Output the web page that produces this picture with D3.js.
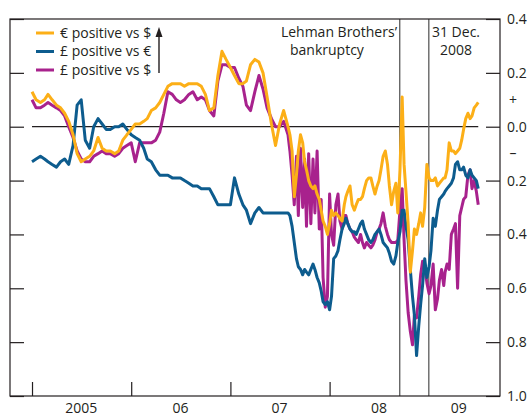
<!DOCTYPE html>
<html>
<head>
<meta charset="utf-8">
<script src="https://cdn.jsdelivr.net/npm/d3@7"></script>
<style>
  body { margin: 0; background: #fff; }
  svg { display: block; }
  text { font-family: "Open Sans", sans-serif; fill: #231f20; }
</style>
</head>
<body>
<div id="chart"></div>
<script>
// Sample dates (semi-monthly to mid-2007, weekly after)
const dates = [
  "2005-01-01","2005-01-16","2005-02-01","2005-02-16","2005-03-01","2005-03-16","2005-04-01","2005-04-16",
  "2005-05-01","2005-05-16","2005-06-01","2005-06-16","2005-07-01","2005-07-16","2005-08-01","2005-08-16",
  "2005-09-01","2005-09-16","2005-10-01","2005-10-16","2005-11-01","2005-11-16","2005-12-01","2005-12-16",
  "2006-01-01","2006-01-16","2006-02-01","2006-02-16","2006-03-01","2006-03-16","2006-04-01","2006-04-16",
  "2006-05-01","2006-05-16","2006-06-01","2006-06-16","2006-07-01","2006-07-16","2006-08-01","2006-08-16",
  "2006-09-01","2006-09-16","2006-10-01","2006-10-16","2006-11-01","2006-11-16","2006-12-01","2006-12-16",
  "2007-01-01","2007-01-16","2007-02-01","2007-02-16","2007-03-01","2007-03-16","2007-04-01","2007-04-16",
  "2007-05-01","2007-05-16","2007-06-01","2007-06-16","2007-07-01","2007-07-16",
  "2007-08-01","2007-08-08","2007-08-16","2007-08-24","2007-09-01","2007-09-08","2007-09-16","2007-09-24",
  "2007-10-01","2007-10-08","2007-10-16","2007-10-24","2007-11-01","2007-11-08","2007-11-16","2007-11-24",
  "2007-12-01","2007-12-08","2007-12-16","2007-12-24","2008-01-01","2008-01-08","2008-01-16","2008-01-24",
  "2008-02-01","2008-02-08","2008-02-16","2008-02-24","2008-03-01","2008-03-08","2008-03-16","2008-03-24",
  "2008-04-01","2008-04-08","2008-04-16","2008-04-24","2008-05-01","2008-05-08","2008-05-16","2008-05-24",
  "2008-06-01","2008-06-08","2008-06-16","2008-06-24","2008-07-01","2008-07-08","2008-07-16","2008-07-24",
  "2008-08-01","2008-08-08","2008-08-16","2008-08-24","2008-09-01","2008-09-08","2008-09-16","2008-09-24",
  "2008-10-01","2008-10-08","2008-10-16","2008-10-24","2008-11-01","2008-11-08","2008-11-16","2008-11-24",
  "2008-12-01","2008-12-08","2008-12-16","2008-12-24","2009-01-01","2009-01-08","2009-01-16","2009-01-24",
  "2009-02-01","2009-02-08","2009-02-16","2009-02-24","2009-03-01","2009-03-08","2009-03-16","2009-03-24",
  "2009-04-01","2009-04-08","2009-04-16","2009-04-24","2009-05-01","2009-05-08","2009-05-16","2009-05-24",
  "2009-06-01","2009-06-08","2009-06-16","2009-06-24","2009-07-01"
];

// € positive vs $
const euroVsDollar = [
  0.13, 0.10, 0.09, 0.10, 0.12, 0.10, 0.08, 0.07, 0.05, 0.02,
  -0.03, -0.10, -0.13, -0.12, -0.11, -0.09, -0.04, -0.08, -0.09, -0.09,
  -0.10, -0.09, -0.05, -0.03, -0.01, 0.01, 0.01, 0.02, 0.03, 0.06,
  0.07, 0.09, 0.12, 0.15, 0.16, 0.16, 0.16, 0.15, 0.16, 0.16,
  0.16, 0.15, 0.12, 0.06, 0.07, 0.19, 0.28, 0.25, 0.22, 0.19,
  0.16, 0.16, 0.17, 0.23, 0.25, 0.24, 0.20, 0.11, 0.01, -0.07,
  0.01, 0.06,
  0.00, -0.03, -0.09, -0.26, -0.18, -0.09, -0.03, -0.06, -0.13, -0.16,
  -0.20, -0.22, -0.23, -0.22, -0.25, -0.27, -0.31, -0.35, -0.37, -0.40,
  -0.36, -0.31, -0.33, -0.32, -0.33, -0.34, -0.35, -0.29, -0.26, -0.24,
  -0.22, -0.29, -0.31, -0.29, -0.27, -0.27, -0.26, -0.23, -0.20, -0.19,
  -0.19, -0.22, -0.25, -0.22, -0.20, -0.16, -0.11, -0.09, -0.14, -0.22,
  -0.29, -0.24, -0.21, -0.32, -0.16, 0.11, -0.14, -0.24, -0.36, -0.54,
  -0.46, -0.38, -0.40, -0.36, -0.32, -0.37, -0.30, -0.14, -0.19, -0.20,
  -0.20, -0.19, -0.22, -0.21, -0.20, -0.19, -0.19, -0.16, -0.06, -0.09,
  -0.09, -0.10, -0.09, -0.08, -0.05, -0.01, 0.03, 0.05, 0.03, 0.04,
  0.07, 0.08, 0.09
];

// £ positive vs €
const poundVsEuro = [
  -0.13, -0.12, -0.11, -0.12, -0.13, -0.14, -0.15, -0.13, -0.12, -0.14,
  -0.07, 0.08, 0.10, -0.05, -0.08, 0.00, 0.03, 0.01, -0.01, -0.01,
  0.00, 0.00, 0.01, -0.01, -0.03, -0.04, -0.05, -0.08, -0.12, -0.13,
  -0.16, -0.18, -0.18, -0.18, -0.19, -0.19, -0.19, -0.20, -0.21, -0.22,
  -0.22, -0.23, -0.23, -0.23, -0.26, -0.29, -0.29, -0.29, -0.29, -0.19,
  -0.25, -0.29, -0.31, -0.36, -0.32, -0.30, -0.32, -0.32, -0.32, -0.32,
  -0.32, -0.32,
  -0.32, -0.33, -0.37, -0.43, -0.49, -0.52, -0.53, -0.55, -0.53, -0.54,
  -0.55, -0.53, -0.51, -0.53, -0.56, -0.58, -0.61, -0.65, -0.66, -0.65,
  -0.68, -0.63, -0.49, -0.48, -0.46, -0.42, -0.38, -0.36, -0.34, -0.36,
  -0.38, -0.39, -0.39, -0.40, -0.38, -0.36, -0.35, -0.38, -0.40, -0.42,
  -0.43, -0.42, -0.40, -0.39, -0.38, -0.40, -0.43, -0.44, -0.45, -0.47,
  -0.50, -0.51, -0.48, -0.43, -0.39, -0.31, -0.31, -0.37, -0.42, -0.53,
  -0.63, -0.70, -0.85, -0.74, -0.66, -0.59, -0.49, -0.56, -0.52, -0.46,
  -0.34, -0.37, -0.31, -0.27, -0.26, -0.25, -0.24, -0.23, -0.22, -0.21,
  -0.19, -0.14, -0.13, -0.16, -0.16, -0.15, -0.18, -0.19, -0.16, -0.18,
  -0.19, -0.20, -0.23
];

// £ positive vs $
const poundVsDollar = [
  0.10, 0.07, 0.07, 0.08, 0.09, 0.08, 0.07, 0.06, 0.04, 0.00,
  -0.04, -0.09, -0.12, -0.13, -0.13, -0.11, -0.10, -0.09, -0.10, -0.10,
  -0.11, -0.10, -0.08, -0.07, -0.06, -0.13, -0.06, -0.06, -0.06, -0.06,
  -0.05, -0.02, 0.05, 0.13, 0.12, 0.10, 0.09, 0.10, 0.12, 0.13,
  0.10, 0.11, 0.10, 0.06, 0.04, 0.17, 0.23, 0.23, 0.22, 0.22,
  0.18, 0.15, 0.08, 0.06, 0.13, 0.19, 0.14, 0.07, 0.03, 0.00,
  0.00, 0.02,
  -0.03, -0.09, -0.18, -0.29, -0.11, -0.33, -0.08, -0.30, -0.12, -0.37,
  -0.10, -0.36, -0.12, -0.32, -0.09, -0.38, -0.27, -0.56, -0.67, -0.63,
  -0.25, -0.40, -0.44, -0.29, -0.25, -0.35, -0.38, -0.33, -0.33, -0.36,
  -0.38, -0.39, -0.41, -0.42, -0.43, -0.40, -0.43, -0.45, -0.43, -0.44,
  -0.45, -0.44, -0.42, -0.39, -0.38, -0.36, -0.32, -0.37, -0.40, -0.42,
  -0.43, -0.43, -0.43, -0.42, -0.31, -0.23, -0.42, -0.57, -0.69, -0.76,
  -0.81, -0.70, -0.71, -0.63, -0.55, -0.50, -0.52, -0.58, -0.62, -0.59,
  -0.51, -0.68, -0.64, -0.57, -0.53, -0.59, -0.54, -0.51, -0.53, -0.40,
  -0.38, -0.36, -0.60, -0.33, -0.30, -0.27, -0.26, -0.18, -0.16, -0.23,
  -0.20, -0.24, -0.29
];

const seriesNames = ["€ positive vs $", "£ positive vs €", "£ positive vs $"];
const seriesColors = ["#fcaf17", "#0d5c8e", "#a8228d"];

const yTickValues = [0.4, 0.2, 0, -0.2, -0.4, -0.6, -0.8, -1.0];
const yearTicks = ["2005-01-01", "2006-01-01", "2007-01-01", "2008-01-01"];
const yearLabels = ["2005", "06", "07", "08", "09"];
const yearLabelDates = ["2005-07-01", "2006-07-01", "2007-07-01", "2008-07-01", "2009-04-20"];

const parse = d3.timeParse("%Y-%m-%d");

const width = 529, height = 417;
const margin = { top: 19, right: 29, bottom: 21, left: 10 };

const svg = d3.select("#chart")
  .append("svg")
  .attr("width", width)
  .attr("height", height);

const x = d3.scaleTime()
  .domain([parse("2004-10-12"), parse("2009-09-19")])
  .range([margin.left, width - margin.right]);

const y = d3.scaleLinear()
  .domain([-1, 0.4])
  .range([height - margin.bottom, margin.top]);

const ink = "#231f20";

// Zero line
svg.append("line")
  .attr("x1", x(parse("2005-01-01")))
  .attr("x2", x(parse("2009-07-01")))
  .attr("y1", y(0))
  .attr("y2", y(0))
  .attr("stroke", ink)
  .attr("stroke-width", 1.2);

// Event markers
["2008-09-15", "2008-12-31"].forEach(d => {
  svg.append("line")
    .attr("x1", x(parse(d)))
    .attr("x2", x(parse(d)))
    .attr("y1", margin.top)
    .attr("y2", height - margin.bottom)
    .attr("stroke", "#666")
    .attr("stroke-width", 1.4);
});

// Series lines
const rows = dates.map((d, i) => ({
  date: parse(d),
  vals: [euroVsDollar[i], poundVsEuro[i], poundVsDollar[i]]
}));

const drawOrder = [2, 1, 0];
drawOrder.forEach(k => {
  const line = d3.line()
    .x(d => x(d.date))
    .y(d => y(d.vals[k]));
  svg.append("path")
    .datum(rows)
    .attr("fill", "none")
    .attr("stroke", seriesColors[k])
    .attr("stroke-width", 3)
    .attr("stroke-linejoin", "round")
    .attr("d", line);
});

// Left ticks
const leftAxis = svg.append("g")
  .attr("transform", `translate(${margin.left},0)`)
  .call(d3.axisRight(y).tickValues(yTickValues).tickSize(14).tickFormat(""));
leftAxis.select(".domain").remove();
leftAxis.selectAll("line").attr("stroke", ink).attr("stroke-width", 1.2);

// Right ticks and labels
const rightAxis = svg.append("g")
  .attr("transform", `translate(${width - margin.right},0)`)
  .call(d3.axisRight(y)
    .tickValues(yTickValues)
    .tickSizeInner(-14)
    .tickSizeOuter(0)
    .tickPadding(7)
    .tickFormat(d => Math.abs(d).toFixed(1)));
rightAxis.select(".domain").remove();
rightAxis.selectAll("line").attr("stroke", ink).attr("stroke-width", 1.2);
rightAxis.selectAll("text")
  .attr("font-size", 14)
  .attr("font-family", "'Open Sans', sans-serif")
  .attr("fill", ink);

// + / – signs
svg.append("text")
  .attr("x", width - margin.right + 13)
  .attr("y", y(0.1))
  .attr("dy", "0.35em")
  .attr("text-anchor", "middle")
  .style("font-size", "14px")
  .text("+");
svg.append("text")
  .attr("x", width - margin.right + 13)
  .attr("y", y(-0.1))
  .attr("dy", "0.3em")
  .attr("text-anchor", "middle")
  .style("font-size", "14px")
  .text("–");

// Bottom ticks
const bottomAxis = svg.append("g")
  .attr("transform", `translate(0,${height - margin.bottom})`)
  .call(d3.axisTop(x).tickValues(yearTicks.map(parse)).tickSize(14).tickFormat(""));
bottomAxis.select(".domain").remove();
bottomAxis.selectAll("line").attr("stroke", ink).attr("stroke-width", 1.2);

// Year labels
svg.selectAll(".year")
  .data(yearLabels)
  .enter()
  .append("text")
  .attr("class", "year")
  .attr("x", (d, i) => x(parse(yearLabelDates[i])))
  .attr("y", 413)
  .attr("text-anchor", "middle")
  .style("font-size", "14px")
  .text(d => d);

// Frame
svg.append("rect")
  .attr("x", margin.left)
  .attr("y", margin.top)
  .attr("width", width - margin.left - margin.right)
  .attr("height", height - margin.top - margin.bottom)
  .attr("fill", "none")
  .attr("stroke", ink)
  .attr("stroke-width", 1.2);

// Annotations
svg.append("text").attr("x", 397).attr("y", 37).attr("text-anchor", "end")
  .style("font-size", "14px").text("Lehman Brothers’");
svg.append("text").attr("x", 290).attr("y", 55)
  .style("font-size", "14px").text("bankruptcy");
svg.append("text").attr("x", 456).attr("y", 37).attr("text-anchor", "middle")
  .style("font-size", "14px").text("31 Dec.");
svg.append("text").attr("x", 456).attr("y", 55).attr("text-anchor", "middle")
  .style("font-size", "14px").text("2008");

// Legend
const legendY = [33, 51.5, 70];
seriesNames.forEach((name, i) => {
  svg.append("line")
    .attr("x1", 36).attr("x2", 54)
    .attr("y1", legendY[i]).attr("y2", legendY[i])
    .attr("stroke", seriesColors[i])
    .attr("stroke-width", 3);
  svg.append("text")
    .attr("x", 60)
    .attr("y", legendY[i])
    .attr("dy", "0.35em")
    .style("font-size", "14px")
    .text(name);
});

// Upward arrow beside legend
svg.append("line")
  .attr("x1", 159).attr("x2", 159)
  .attr("y1", 73).attr("y2", 36)
  .attr("stroke", ink)
  .attr("stroke-width", 1.4);
svg.append("path")
  .attr("d", "M159,27 L155.5,37 L162.5,37 Z")
  .attr("fill", ink);
</script>
</body>
</html>
